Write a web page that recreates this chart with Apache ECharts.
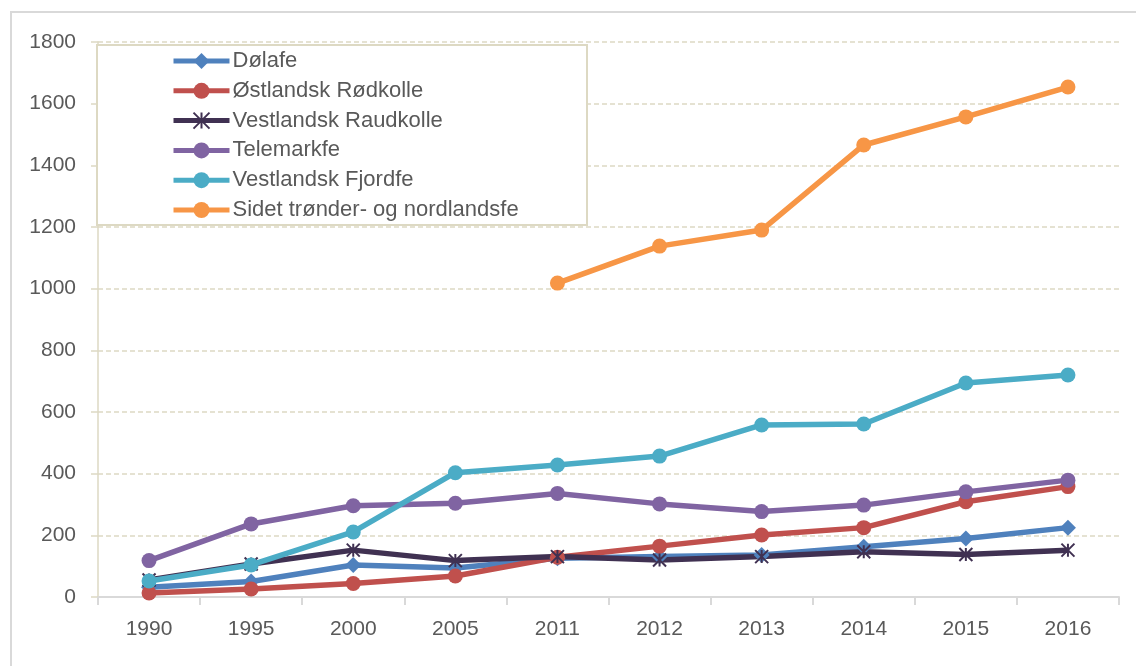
<!DOCTYPE html>
<html>
<head>
<meta charset="utf-8">
<script src="https://cdn.jsdelivr.net/npm/echarts@6/dist/echarts.min.js"></script>
<style>
  html, body { margin: 0; padding: 0; background: #fff; }
  #chart { width: 1136px; height: 666px; }
</style>
</head>
<body>
<div id="chart"></div>
<script>
const years = ["1990", "1995", "2000", "2005", "2011", "2012", "2013", "2014", "2015", "2016"];
const yTicks = [0, 1800, 200];

const dolafe = [32, 50, 104, 94, 126, 131, 136, 163, 190, 225];
const ostlandskRodkolle = [13, 26, 44, 68, 129, 165, 201, 225, 309, 358];
const vestlandskRaudkolle = [55, 107, 152, 118, 131, 120, 131, 147, 138, 152];
const telemarkfe = [118, 237, 296, 304, 336, 302, 277, 298, 341, 379];
const vestlandskFjordfe = [52, 104, 211, 403, 428, 457, 558, 561, 694, 720];
const sidetTronder = [null, null, null, null, 1018, 1138, 1190, 1466, 1557, 1654];

const names = ["Dølafe", "Østlandsk Rødkolle", "Vestlandsk Raudkolle", "Telemarkfe", "Vestlandsk Fjordfe", "Sidet trønder- og nordlandsfe"];
const values = [dolafe, ostlandskRodkolle, vestlandskRaudkolle, telemarkfe, vestlandskFjordfe, sidetTronder];
const colors = ["#4F81BD", "#C0504D", "#403152", "#8064A2", "#4BACC6", "#F79646"];
const symbols = ["diamond", "circle", "path://M0,0L12,12M12,0L0,12M6,0L6,12", "circle", "circle", "circle"];

const textColor = "#595959";
const tan = "#DDD9C3";
const gray = "#D9D9D9";

const myChart = echarts.init(document.getElementById("chart"));

const series = names.map(function (name, i) {
  const s = {
    name: name,
    type: "line",
    data: values[i],
    symbol: symbols[i],
    symbolSize: i === 0 ? 16 : 15,
    showAllSymbol: true,
    connectNulls: false,
    lineStyle: { color: colors[i], width: 5.5 },
    itemStyle: { color: colors[i] },
    emphasis: { disabled: true },
  };
  if (i === 2) {
    s.symbolSize = 13;
    s.itemStyle = { color: colors[i], borderColor: colors[i], borderWidth: 2 };
  }
  return s;
});

const option = {
  animation: false,
  textStyle: { fontFamily: "Liberation Sans" },
  graphic: [
    {
      type: "rect",
      z: -10,
      shape: { x: 11, y: 12, width: 1140, height: 700 },
      style: { fill: "none", stroke: gray, lineWidth: 2 },
    },
    {
      type: "rect",
      z: 5,
      shape: { x: 97, y: 45, width: 490, height: 180 },
      style: { fill: "#fff", stroke: tan, lineWidth: 2 },
    },
  ],
  legend: {
    orient: "vertical",
    left: 171,
    top: 50,
    z: 6,
    itemWidth: 56,
    itemHeight: 20,
    itemGap: 7.8,
    padding: 0,
    lineStyle: { width: 5 },
    textStyle: { color: textColor, fontSize: 22, fontFamily: "Liberation Sans", padding: [0, 0, 0, -2] },
    data: names,
  },
  grid: {
    left: 98,
    right: 17,
    top: 42,
    bottom: 69,
  },
  xAxis: {
    type: "category",
    data: years,
    boundaryGap: true,
    axisLine: { lineStyle: { color: gray, width: 2 } },
    axisTick: { show: true, length: 8, lineStyle: { color: gray, width: 2 } },
    axisLabel: { color: textColor, fontSize: 21, margin: 22 },
    splitLine: { show: false },
  },
  yAxis: {
    type: "value",
    min: yTicks[0],
    max: yTicks[1],
    interval: yTicks[2],
    axisLine: { show: true, lineStyle: { color: tan, width: 1.5 } },
    axisTick: { show: true, length: 7, lineStyle: { color: tan, width: 1.5 } },
    axisLabel: { color: textColor, fontSize: 21, margin: 22, formatter: function (v) { return String(v); } },
    splitLine: { show: true, lineStyle: { color: tan, width: 1.5, type: [5, 3] } },
  },
  series: series,
};

myChart.setOption(option);
window.addEventListener("resize", function () {
  myChart.resize();
});
</script>
</body>
</html>
